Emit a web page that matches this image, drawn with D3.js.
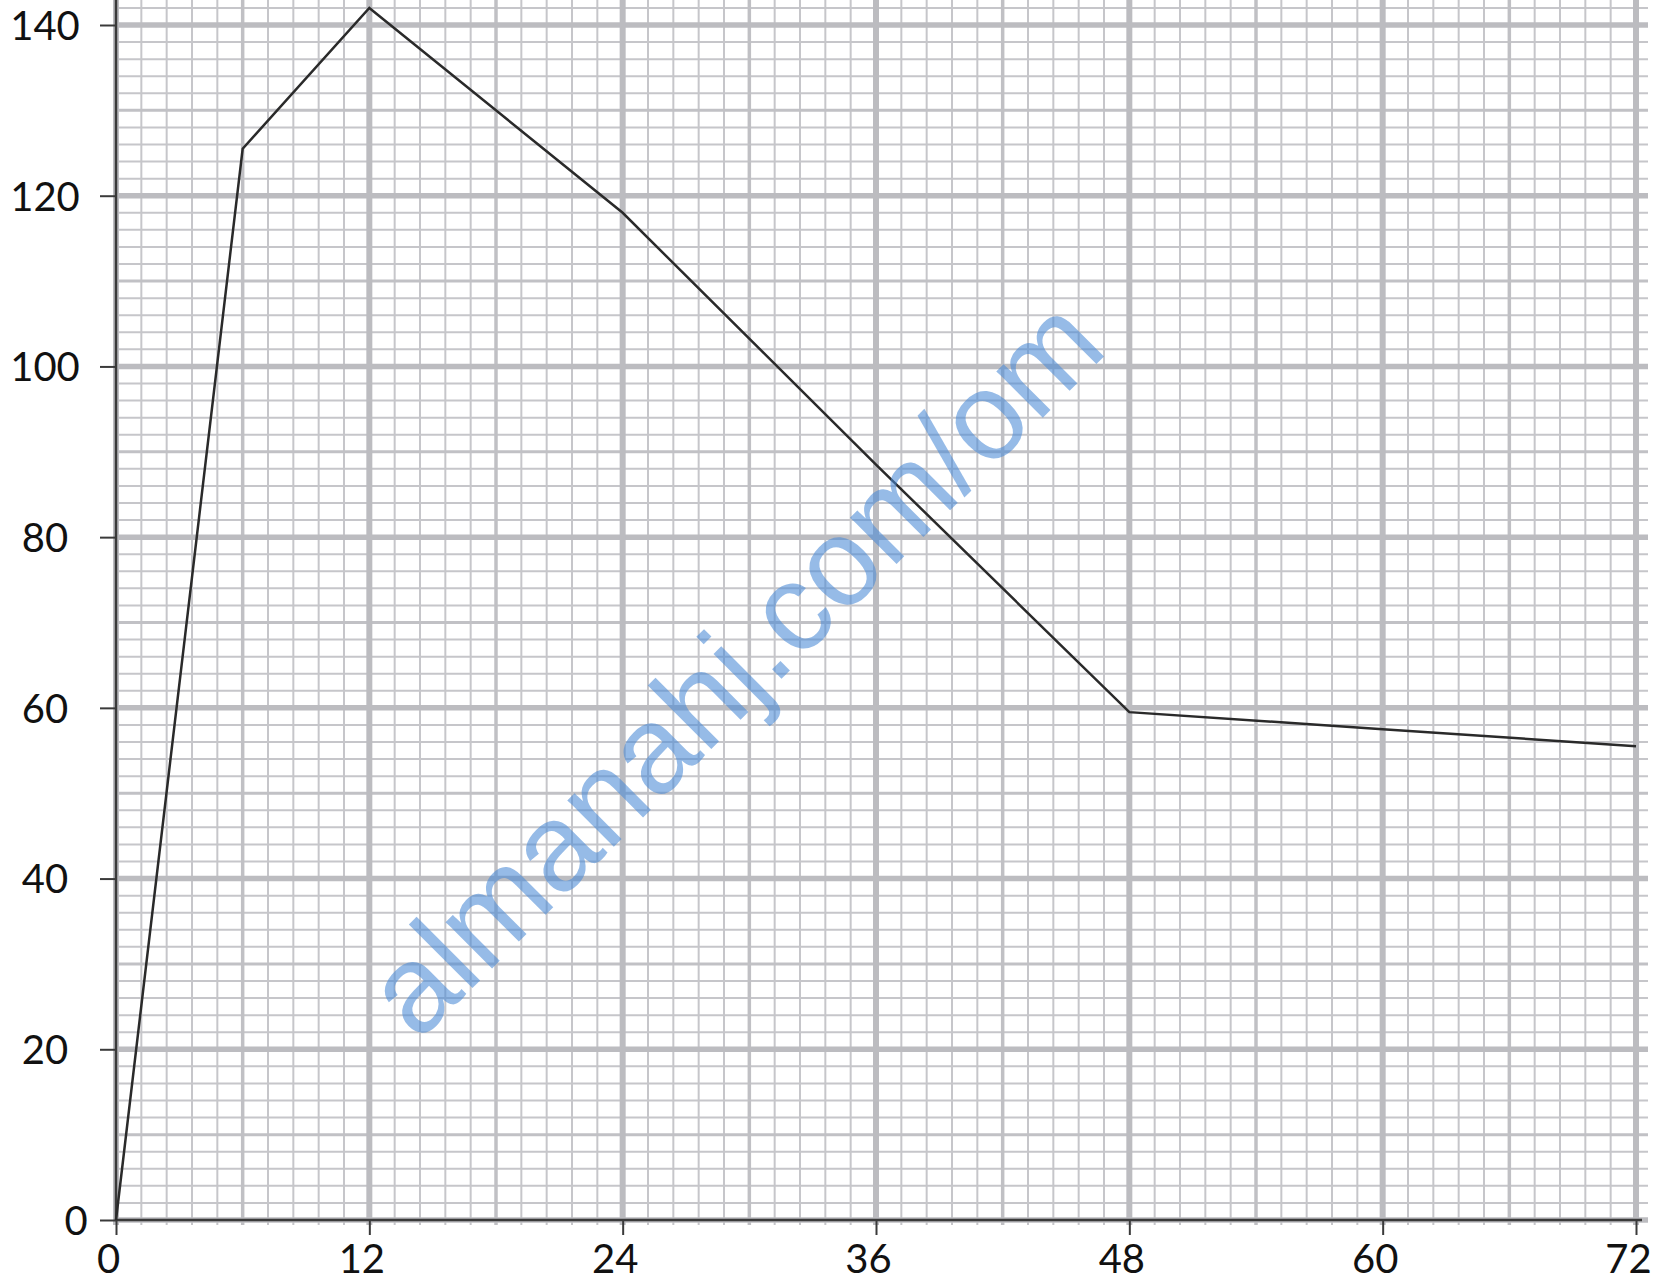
<!DOCTYPE html>
<html>
<head>
<meta charset="utf-8">
<script src="https://cdn.jsdelivr.net/npm/d3@7"></script>
<style>
  body { margin: 0; background: #fff; }
  svg { display: block; }
</style>
</head>
<body>
<script>
// chart data
var times = [0, 6, 12, 24, 36, 48, 60, 72];
var values = [0, 125.5, 142, 118, 88.5, 59.5, 57.5, 55.5];
var xTickValues = [0, 12, 24, 36, 48, 60, 72];
var yTickValues = [0, 20, 40, 60, 80, 100, 120, 140];
var watermark = "almanahj.com/om";

var width = 1660,
    height = 1283;

// axis origin and scale ends in page pixels
var x = d3.scaleLinear().domain([0, 72]).range([116, 1636]);
var y = d3.scaleLinear().domain([0, 140]).range([1220, 25]);
var yTop = y.invert(0);

var svg = d3.select("body").append("svg")
    .attr("width", width)
    .attr("height", height);

// graph paper: minor, mid and major lines
var grid = svg.append("g").attr("class", "grid");

function near(a, step) {
    var r = a / step;
    return Math.abs(r - Math.round(r)) < 1e-6;
}

var xMinor = d3.range(0, 72.001, 1.2).filter(function(d) { return !near(d, 6); });
var xMid = d3.range(6, 72, 12);
var xMajor = d3.range(0, 72.001, 12);
var yMinor = d3.range(0, yTop, 2).filter(function(d) { return !near(d, 10); });
var yMid = d3.range(10, yTop, 20);
var yMajor = d3.range(0, yTop, 20);

function vLines(data, w, col) {
    grid.append("g").selectAll("line")
        .data(data)
        .enter().append("line")
        .attr("x1", function(d) { return x(d); })
        .attr("x2", function(d) { return x(d); })
        .attr("y1", 0)
        .attr("y2", y(0) + 5)
        .attr("stroke", col)
        .attr("stroke-width", w);
}
function hLines(data, w, col) {
    grid.append("g").selectAll("line")
        .data(data)
        .enter().append("line")
        .attr("x1", x(0))
        .attr("x2", x(72) + 12)
        .attr("y1", function(d) { return y(d); })
        .attr("y2", function(d) { return y(d); })
        .attr("stroke", col)
        .attr("stroke-width", w);
}

hLines(yMinor, 2, "#c6c6ca");
vLines(xMinor, 2, "#c6c6ca");
hLines(yMid, 3, "#c1c1c5");
vLines(xMid, 3.5, "#c0c0c4");
hLines(yMajor, 5.5, "#bcbcc0");
vLines(xMajor, 6, "#bcbcc0");

// axes
var axisColor = "#3a3a3a";
var xAxis = svg.append("g")
    .attr("transform", "translate(0," + y(0) + ")")
    .call(d3.axisBottom(x).tickValues(xTickValues).tickSize(15).tickSizeOuter(0).tickPadding(6));
var yAxis = svg.append("g")
    .attr("transform", "translate(" + x(0) + ",0)")
    .call(d3.axisLeft(y).tickValues(yTickValues).tickSize(16).tickSizeOuter(0));

[xAxis, yAxis].forEach(function(a) {
    a.select(".domain").attr("stroke", axisColor).attr("stroke-width", 2.5);
    a.selectAll(".tick line").attr("stroke", axisColor).attr("stroke-width", 2);
    a.selectAll("text")
        .attr("fill", "#111")
        .style("font-family", "Lato, 'Open Sans', sans-serif")
        .style("font-size", "40px");
});
yAxis.select(".domain").attr("d", "M0," + y(0) + "V0");
xAxis.select(".domain").attr("d", "M" + x(0) + ",0H" + (x(72) + 6));

xAxis.selectAll(".tick text")
    .attr("x", -8)
    .attr("y", 25)
    .attr("dy", "0.71em");
yAxis.selectAll(".tick text")
    .attr("text-anchor", "middle")
    .attr("x", function(d) { return d === 0 ? 76 - x(0) : 45 - x(0); })
    .attr("dy", "0.36em");

// the data line
var line = d3.line()
    .x(function(d, i) { return x(times[i]); })
    .y(function(d) { return y(d); });

svg.append("path")
    .datum(values)
    .attr("fill", "none")
    .attr("stroke", "#2a2a2a")
    .attr("stroke-width", 2.5)
    .attr("stroke-linejoin", "miter")
    .attr("d", line);

// watermark across the middle
svg.append("text")
    .attr("transform", "translate(733,666) rotate(-45)")
    .attr("text-anchor", "middle")
    .attr("dy", "0.35em")
    .style("font-family", "'Liberation Sans', Arial, sans-serif")
    .style("font-size", "124px")
    .attr("fill", "#4a8ad6")
    .attr("fill-opacity", 0.58)
    .text(watermark);
</script>
</body>
</html>
